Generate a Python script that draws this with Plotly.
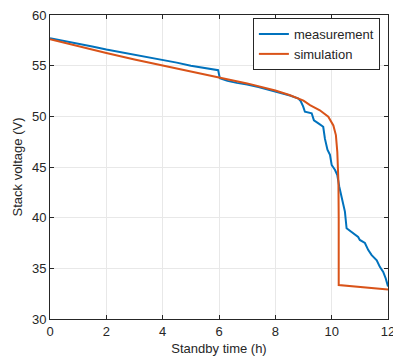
import plotly.graph_objects as go

meas_t = [0.0, 0.5, 1.0, 1.5, 2.0, 2.5, 3.0, 3.5, 4.0, 4.5, 5.0, 5.5, 5.9, 5.97,
          6.03, 6.3, 6.63, 7.0, 7.4, 7.81, 8.2, 8.52, 8.82, 8.9, 8.99, 9.05, 9.29,
          9.37, 9.53, 9.70, 9.76, 9.85, 9.94, 10.0, 10.12, 10.2, 10.27, 10.35,
          10.47, 10.53, 10.77, 10.94, 11.0, 11.18, 11.3, 11.42, 11.6, 11.71,
          11.83, 11.92, 12.0]
meas_v = [57.7, 57.45, 57.15, 56.9, 56.6, 56.35, 56.1, 55.85, 55.55, 55.3, 55.0,
          54.75, 54.6, 54.55, 53.75, 53.5, 53.3, 53.15, 52.9, 52.6, 52.35, 52.05,
          51.75, 51.5, 50.95, 50.45, 50.3, 49.6, 49.3, 48.97, 47.8, 46.7, 46.2,
          45.2, 44.7, 44.2, 43.05, 42.1, 40.6, 38.95, 38.45, 38.1, 37.8, 37.5,
          36.8, 36.3, 35.8, 35.15, 34.65, 34.0, 33.2]

# Simulated stack voltage
sim_t = [0.0, 1.0, 2.0, 3.0, 4.0, 5.0, 6.0, 7.0, 8.0, 8.5, 9.0, 9.23, 9.58,
         9.88, 10.06, 10.15, 10.2, 10.24, 10.25, 10.25, 12.0]
sim_v = [57.6, 56.9, 56.25, 55.6, 55.0, 54.4, 53.85, 53.25, 52.55, 52.1, 51.55,
         51.1, 50.6, 49.96, 49.1, 48.15, 46.5, 43.5, 40.0, 33.35, 32.9]

x_ticks = [0, 2, 4, 6, 8, 10, 12]
y_ticks = [30, 35, 40, 45, 50, 55, 60]

font = "Liberation Sans, Arial, sans-serif"
txt = "#262626"

fig = go.Figure()
fig.add_trace(go.Scatter(x=meas_t, y=meas_v, mode="lines", name="measurement",
                         line=dict(color="#0072BD", width=2)))
fig.add_trace(go.Scatter(x=sim_t, y=sim_v, mode="lines", name="simulation",
                         line=dict(color="#D95319", width=2)))

axis_common = dict(showline=True, linecolor=txt, linewidth=1, mirror="ticks",
                   ticks="inside", ticklen=4, tickcolor=txt, showgrid=True,
                   gridcolor="#e8e8e8", gridwidth=1, zeroline=False,
                   ticklabeloverflow="allow", automargin=False,
                   tickfont=dict(family=font, size=13, color=txt))

fig.update_layout(
    width=393, height=362,
    margin=dict(l=50, r=5, t=15, b=43),
    paper_bgcolor="white", plot_bgcolor="white",
    font=dict(family=font, size=13, color=txt),
    xaxis=dict(range=[0, 12], tickvals=x_ticks,
               title=dict(text="Standby time (h)", standoff=6,
                          font=dict(family=font, size=13, color=txt)),
               **axis_common),
    yaxis=dict(range=[30, 60], tickvals=y_ticks,
               title=dict(text="Stack voltage (V)", standoff=6,
                          font=dict(family=font, size=13, color=txt)),
               **axis_common),
    legend=dict(x=0.976, y=0.99, xanchor="right", yanchor="top",
                bgcolor="white", bordercolor=txt, borderwidth=1,
                font=dict(family=font, size=13, color=txt),
                tracegroupgap=0, itemwidth=30),
    showlegend=True,
)

fig.write_html("out.html", config={"displayModeBar": False},
               post_script="document.body.style.margin='0';document.body.style.overflow='hidden';")
